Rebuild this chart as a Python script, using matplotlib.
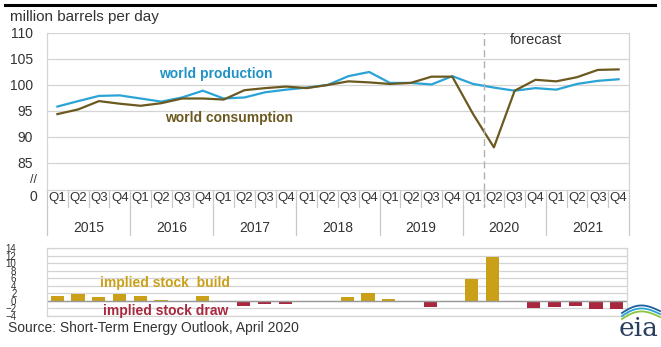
import matplotlib
matplotlib.use('Agg')
import matplotlib.pyplot as plt
from matplotlib.lines import Line2D
import numpy as np

plt.rcParams['font.family'] = ['Liberation Sans', 'DejaVu Sans']

years = ['2015', '2016', '2017', '2018', '2019', '2020', '2021']
quarters = ['Q1', 'Q2', 'Q3', 'Q4']

# million barrels per day, 2015Q1 .. 2021Q4
production = [95.85, 96.9, 97.9, 98.0,
              97.4, 96.8, 97.6, 98.9,
              97.4, 97.6, 98.6, 99.1,
              99.5, 100.0, 101.7, 102.5,
              100.4, 100.4, 100.1, 101.7,
              100.2, 99.5, 98.9, 99.4,
              99.1, 100.2, 100.8, 101.1]
consumption = [94.4, 95.3, 96.9, 96.4,
               96.0, 96.5, 97.4, 97.4,
               97.2, 99.0, 99.4, 99.7,
               99.4, 100.0, 100.7, 100.5,
               100.2, 100.4, 101.6, 101.6,
               94.4, 88.0, 98.9, 101.0,
               100.7, 101.5, 102.9, 103.0]
stock_change = [1.4, 1.7, 1.0, 1.7,
                1.4, 0.35, 0.0, 1.4,
                0.0, -1.4, -0.9, -0.7,
                0.0, 0.0, 1.0, 2.0,
                0.4, 0.0, -1.5, 0.1,
                5.8, 11.5, 0.0, -1.8,
                -1.7, -1.3, -2.2, -2.1]

BLUE = '#2aa3d6'
OLIVE = '#6b5920'
GOLD = '#c9a018'
RED = '#a8293f'
GRID = '#d4d4d4'
TXT = '#333333'

W, H = 661, 347
fig = plt.figure(figsize=(W / 100, H / 100), dpi=100)


def fx(px):
    return px / W


def fy(py):
    return 1 - py / H


n = len(production)
x = np.arange(n) + 0.5

# top chart
ax = fig.add_axes([fx(47), fy(190), fx(582), 157 / H])
ax.plot(x, production, color=BLUE, lw=1.6)
ax.plot(x, consumption, color=OLIVE, lw=1.6)
ax.set_xlim(0, n)
ax.set_ylim(79.8, 110)
ax.set_yticks([85, 90, 95, 100, 105, 110])
ax.tick_params(axis='y', length=0, labelsize=10, labelcolor=TXT, pad=10)
ax.set_xticks([])
ax.grid(axis='y', color=GRID, lw=0.9)
for s in ax.spines.values():
    s.set_color(GRID)
    s.set_linewidth(0.9)
ax.spines['top'].set_visible(False)
ax.axvline(21, color='#b0b0b0', lw=1, ls=(0, (5, 3)), ymax=1)

ax.text(0.29, 0.74, 'world production', transform=ax.transAxes, color='#1f93c6',
        fontsize=10, fontweight='bold', ha='center', va='center')
ax.text(0.313, 0.46, 'world consumption', transform=ax.transAxes, color=OLIVE,
        fontsize=10, fontweight='bold', ha='center', va='center')
ax.text(23.5, 0.955, 'forecast', transform=ax.get_xaxis_transform(), color=TXT,
        fontsize=10.5, ha='center', va='center')

# category axis (quarters / years)
tr = ax.get_xaxis_transform()
q_bot = -17 / 157
y_bot = -45 / 157
for i in range(n + 1):
    ax.add_line(Line2D([i, i], [0, q_bot], transform=tr, color='#c8c8c8',
                       lw=0.9, clip_on=False))
for i in range(0, n + 1, 4):
    ax.add_line(Line2D([i, i], [q_bot, y_bot], transform=tr, color='#c8c8c8',
                       lw=0.9, clip_on=False))
ax.add_line(Line2D([21, 21], [0, q_bot], transform=tr, color='#b0b0b0',
                   lw=1, ls=(0, (3, 2)), clip_on=False))
for i in range(n):
    ax.text(x[i], -8 / 157, quarters[i % 4], transform=tr, ha='center',
            va='center', fontsize=9.5, color=TXT)
for k, yr in enumerate(years):
    ax.text(4 * k + 2, -38 / 157, yr, transform=tr, ha='center', va='center',
            fontsize=10, color=TXT)

fig.text(fx(37), fy(180), '//', ha='right', va='center', fontsize=9, color=TXT)
fig.text(fx(37), fy(197), '0', ha='right', va='center', fontsize=10, color=TXT)

# bottom chart
bx = fig.add_axes([fx(47), fy(316), fx(580), 68 / H])
colors = [GOLD if v >= 0 else RED for v in stock_change]
bx.bar(x, stock_change, width=0.64, color=colors)
bx.set_xlim(0, n)
bx.set_ylim(-4, 14)
bx.set_yticks(np.arange(-4, 15, 2))
bx.tick_params(axis='y', length=0, labelsize=7, labelcolor=TXT, pad=22)
bx.set_xticks([])
bx.grid(axis='y', color=GRID, lw=0.9)
bx.set_axisbelow(True)
bx.axhline(0, color='#999999', lw=1)
for s in bx.spines.values():
    s.set_color(GRID)
    s.set_linewidth(0.9)
bx.text(0.204, 0.49, 'implied stock  build', transform=bx.transAxes, color=GOLD,
        fontsize=10, fontweight='bold', ha='center', va='center')
bx.text(0.204, 0.07, 'implied stock draw', transform=bx.transAxes, color=RED,
        fontsize=10, fontweight='bold', ha='center', va='center')

# header / footer
fig.text(fx(10), fy(17), 'million barrels per day', fontsize=11, color=TXT,
         va='center', ha='left')
fig.text(fx(8), fy(328), 'Source: Short-Term Energy Outlook, April 2020',
         fontsize=10, color=TXT, va='center', ha='left')
fig.add_artist(Line2D([fx(5), fx(655)], [fy(5), fy(5)], color='black', lw=2.2))

# eia logo
fig.text(fx(639), fy(329), 'eia', fontsize=19, family='DejaVu Serif',
         color='#2a3f5f', ha='center', va='center')
t = np.linspace(0, 1, 30)
for dy, c in [(0, '#8cc63f'), (3, '#29a3d6'), (6, '#1f5f9f')]:
    xs = fx(622 + 38 * t)
    ys = fy(319 - dy - 9 * np.sin(np.pi * t * 0.9) * (1 - 0.3 * t))
    fig.add_artist(Line2D(xs, ys, color=c, lw=1.3))

fig.savefig('out.png', dpi=100)
